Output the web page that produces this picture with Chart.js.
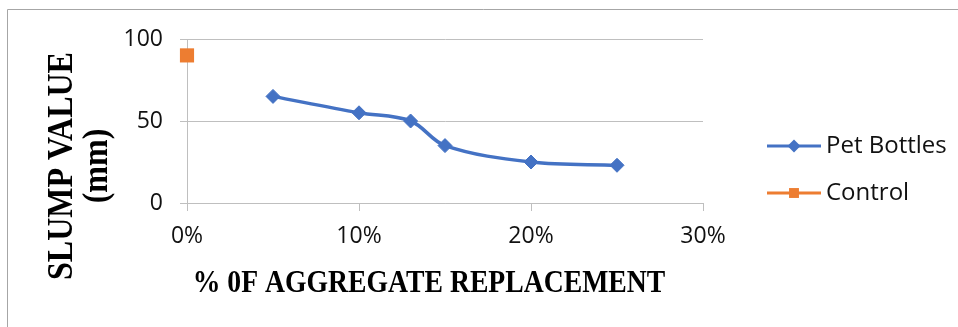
<!DOCTYPE html>
<html>
<head>
<meta charset="utf-8">
<script src="https://cdn.jsdelivr.net/npm/chart.js@4"></script>
<style>
  html, body { margin: 0; padding: 0; background: #fff; }
  #wrap { width: 958px; height: 327px; }
</style>
</head>
<body>
<div id="wrap"><canvas id="c" width="958" height="327"></canvas></div>
<script>
// Replacement percentage of aggregate (x) and slump in mm (y)
const petReplacement = [5, 10, 13, 15, 20, 25];
const petSlump = [65, 55, 50, 35, 25, 23];
const controlReplacement = [0];
const controlSlump = [90];
const xTicks = [0, 10, 20, 30];
const yTicks = [0, 50, 100];
const seriesNames = ['Pet Bottles', 'Control'];
const xTitle = '% 0F AGGREGATE REPLACEMENT';
const yTitle = ['SLUMP VALUE', '(mm)'];

const toPoints = (xs, ys) => xs.map((x, i) => ({ x: x, y: ys[i] }));

// Outer frame of the chart object (left and top edges visible)
const framePlugin = {
  id: 'frame',
  beforeDraw(chart) {
    const ctx = chart.ctx;
    ctx.save();
    ctx.fillStyle = '#fff';
    ctx.fillRect(0, 0, chart.width, chart.height);
    ctx.strokeStyle = '#a6a6a6';
    ctx.lineWidth = 1;
    ctx.beginPath();
    ctx.moveTo(7.5, chart.height + 2);
    ctx.lineTo(7.5, 9.5);
    ctx.lineTo(chart.width + 2, 9.5);
    ctx.stroke();
    ctx.restore();
  }
};

// Axis titles in tall bold serif, centred on the whole chart object
const axisTitles = {
  id: 'axisTitles',
  afterDraw(chart) {
    const ctx = chart.ctx;
    const stretch = 1.14;
    ctx.save();
    ctx.fillStyle = '#000';
    ctx.textAlign = 'center';
    ctx.textBaseline = 'alphabetic';

    ctx.save();
    ctx.font = 'bold 27.7px "Liberation Serif"';
    ctx.translate(429, 291.5);
    ctx.scale(1, stretch);
    ctx.fillText(xTitle, 0, 0);
    ctx.restore();

    ctx.font = 'bold 32px "Liberation Serif"';
    const baselines = [72, 107];
    yTitle.forEach((line, i) => {
      ctx.save();
      ctx.translate(baselines[i], 166);
      ctx.rotate(-Math.PI / 2);
      ctx.scale(1, stretch);
      ctx.fillText(line, 0, 0);
      ctx.restore();
    });
    ctx.restore();
  }
};

// Legend entries drawn as line + marker + label to the right of the plot
const sideLegend = {
  id: 'sideLegend',
  afterDraw(chart) {
    const ctx = chart.ctx;
    const x0 = 767, x1 = 821, rows = [146, 193];
    const markerRadius = [6.5, 7];
    ctx.save();
    chart.data.datasets.forEach((ds, i) => {
      const y = rows[i];
      ctx.strokeStyle = ds.borderColor;
      ctx.lineWidth = 3;
      ctx.beginPath();
      ctx.moveTo(x0, y);
      ctx.lineTo(x1, y);
      ctx.stroke();
      ctx.fillStyle = ds.pointBackgroundColor;
      ctx.strokeStyle = ds.pointBorderColor;
      Chart.helpers.drawPoint(ctx, {
        pointStyle: ds.pointStyle,
        radius: markerRadius[i],
        borderWidth: 0,
        rotation: 0
      }, (x0 + x1) / 2, y);
      ctx.fillStyle = '#111';
      ctx.font = '24px "Open Sans"';
      ctx.textBaseline = 'middle';
      ctx.textAlign = 'left';
      ctx.fillText(ds.label, 826, y);
    });
    ctx.restore();
  }
};

new Chart(document.getElementById('c'), {
  type: 'scatter',
  data: {
    datasets: [
      {
        label: seriesNames[0],
        data: toPoints(petReplacement, petSlump),
        showLine: true,
        clip: false,
        borderColor: '#4472C4',
        backgroundColor: '#4472C4',
        pointBackgroundColor: '#4472C4',
        pointBorderColor: '#4472C4',
        borderWidth: 3.5,
        pointStyle: 'rectRot',
        pointRadius: 7,
        pointBorderWidth: 1,
        tension: 0.35
      },
      {
        label: seriesNames[1],
        data: toPoints(controlReplacement, controlSlump),
        showLine: true,
        clip: false,
        borderColor: '#ED7D31',
        backgroundColor: '#ED7D31',
        pointBackgroundColor: '#ED7D31',
        pointBorderColor: '#ED7D31',
        borderWidth: 3.5,
        pointStyle: 'rect',
        pointRadius: 10,
        pointBorderWidth: 0
      }
    ]
  },
  options: {
    responsive: false,
    animation: false,
    devicePixelRatio: 1,
    layout: { padding: { left: 107, top: 39, right: 255, bottom: 64 } },
    plugins: {
      legend: { display: false },
      tooltip: { enabled: false }
    },
    scales: {
      x: {
        type: 'linear',
        min: xTicks[0],
        max: xTicks[xTicks.length - 1],
        afterBuildTicks(scale) { scale.ticks = xTicks.map(v => ({ value: v })); },
        afterFit(scale) { scale.height = 60; },
        ticks: {
          callback: v => v + '%',
          color: '#111',
          font: { family: 'Open Sans', size: 23 },
          padding: 12,
          maxRotation: 0
        },
        grid: {
          drawOnChartArea: false,
          drawTicks: true,
          tickLength: 8,
          color: '#bfbfbf',
          lineWidth: 1
        },
        border: { display: true, color: '#bfbfbf', width: 1 }
      },
      y: {
        type: 'linear',
        min: yTicks[0],
        max: yTicks[yTicks.length - 1],
        afterBuildTicks(scale) { scale.ticks = yTicks.map(v => ({ value: v })); },
        afterFit(scale) { scale.width = 80; },
        ticks: {
          color: '#111',
          font: { family: 'Open Sans', size: 23 },
          padding: 17
        },
        grid: {
          drawOnChartArea: true,
          drawTicks: true,
          tickLength: 7,
          color: '#bfbfbf',
          lineWidth: 1
        },
        border: { display: true, color: '#bfbfbf', width: 1 }
      }
    }
  },
  plugins: [framePlugin, axisTitles, sideLegend]
});
</script>
</body>
</html>
